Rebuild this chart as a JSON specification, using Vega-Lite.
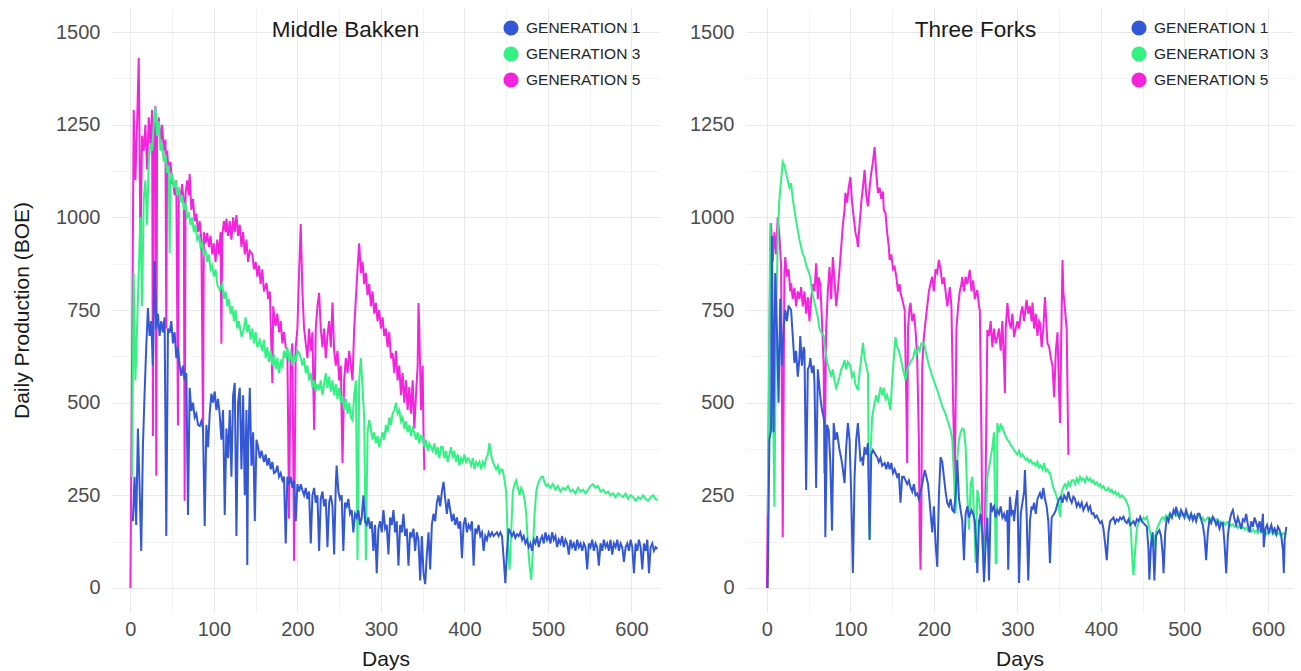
{
"$schema": "https://vega.github.io/schema/vega-lite/v6.json",
"background": "white",
"padding": {"left": 11, "top": 8, "right": 4, "bottom": 2},
"config": {
  "view": {"stroke": null},
  "font": "Liberation Sans",
  "axis": {"domain": false, "ticks": false, "labelFontSize": 20, "labelColor": "#4d4d4d", "titleFontSize": 21, "titleFontWeight": "normal", "titleColor": "#1a1a1a", "labelPadding": 12},
  "title": {"fontSize": 22.5, "fontWeight": "normal", "color": "#1a1a1a", "anchor": "middle"}
},
"datasets": {
"mb": [
{"gen":5,"day":0,"boe":0},{"gen":5,"day":2,"boe":600},{"gen":5,"day":4,"boe":1290},{"gen":5,"day":6,"boe":1100},{"gen":5,"day":8,"boe":1250},{"gen":5,"day":10,"boe":1430},{"gen":5,"day":11,"boe":1200},{"gen":5,"day":12,"boe":900},{"gen":5,"day":14,"boe":1220},{"gen":5,"day":16,"boe":1180},{"gen":5,"day":18,"boe":1250},{"gen":5,"day":20,"boe":1130},{"gen":5,"day":22,"boe":1270},{"gen":5,"day":24,"boe":1200},{"gen":5,"day":26,"boe":1290},{"gen":5,"day":27,"boe":410},{"gen":5,"day":28,"boe":1240},{"gen":5,"day":30,"boe":1300},{"gen":5,"day":31,"boe":303},{"gen":5,"day":32,"boe":1230},{"gen":5,"day":34,"boe":1270},{"gen":5,"day":36,"boe":1200},{"gen":5,"day":38,"boe":1250},{"gen":5,"day":40,"boe":1180},{"gen":5,"day":42,"boe":1210},{"gen":5,"day":43,"boe":700},{"gen":5,"day":44,"boe":1180},{"gen":5,"day":46,"boe":1120},{"gen":5,"day":48,"boe":1150},{"gen":5,"day":50,"boe":1090},{"gen":5,"day":51,"boe":1103},{"gen":5,"day":53,"boe":1060},{"gen":5,"day":55,"boe":1100},{"gen":5,"day":57,"boe":438},{"gen":5,"day":58,"boe":1080},{"gen":5,"day":60,"boe":1050},{"gen":5,"day":62,"boe":1090},{"gen":5,"day":64,"boe":1040},{"gen":5,"day":65,"boe":235},{"gen":5,"day":66,"boe":1060},{"gen":5,"day":68,"boe":1100},{"gen":5,"day":70,"boe":1060},{"gen":5,"day":71,"boe":1117},{"gen":5,"day":73,"boe":1020},{"gen":5,"day":75,"boe":1050},{"gen":5,"day":77,"boe":990},{"gen":5,"day":79,"boe":1010},{"gen":5,"day":81,"boe":960},{"gen":5,"day":83,"boe":990},{"gen":5,"day":85,"boe":940},{"gen":5,"day":87,"boe":418},{"gen":5,"day":88,"boe":960},{"gen":5,"day":90,"boe":930},{"gen":5,"day":92,"boe":958},{"gen":5,"day":94,"boe":920},{"gen":5,"day":96,"boe":950},{"gen":5,"day":98,"boe":900},{"gen":5,"day":100,"boe":930},{"gen":5,"day":102,"boe":880},{"gen":5,"day":104,"boe":940},{"gen":5,"day":106,"boe":900},{"gen":5,"day":108,"boe":960},{"gen":5,"day":109,"boe":659},{"gen":5,"day":110,"boe":950},{"gen":5,"day":112,"boe":990},{"gen":5,"day":114,"boe":960},{"gen":5,"day":115,"boe":997},{"gen":5,"day":117,"boe":950},{"gen":5,"day":119,"boe":990},{"gen":5,"day":121,"boe":940},{"gen":5,"day":123,"boe":1000},{"gen":5,"day":125,"boe":960},{"gen":5,"day":127,"boe":1006},{"gen":5,"day":129,"boe":950},{"gen":5,"day":131,"boe":980},{"gen":5,"day":133,"boe":920},{"gen":5,"day":135,"boe":960},{"gen":5,"day":137,"boe":900},{"gen":5,"day":139,"boe":940},{"gen":5,"day":141,"boe":880},{"gen":5,"day":143,"boe":910},{"gen":5,"day":146,"boe":901},{"gen":5,"day":148,"boe":860},{"gen":5,"day":150,"boe":880},{"gen":5,"day":152,"boe":840},{"gen":5,"day":154,"boe":870},{"gen":5,"day":156,"boe":820},{"gen":5,"day":158,"boe":860},{"gen":5,"day":160,"boe":800},{"gen":5,"day":163,"boe":823},{"gen":5,"day":165,"boe":780},{"gen":5,"day":167,"boe":800},{"gen":5,"day":170,"boe":553},{"gen":5,"day":171,"boe":760},{"gen":5,"day":173,"boe":720},{"gen":5,"day":174,"boe":707},{"gen":5,"day":176,"boe":740},{"gen":5,"day":178,"boe":690},{"gen":5,"day":180,"boe":720},{"gen":5,"day":182,"boe":660},{"gen":5,"day":184,"boe":690},{"gen":5,"day":186,"boe":650},{"gen":5,"day":188,"boe":640},{"gen":5,"day":190,"boe":187},{"gen":5,"day":192,"boe":620},{"gen":5,"day":194,"boe":660},{"gen":5,"day":196,"boe":73},{"gen":5,"day":198,"boe":650},{"gen":5,"day":200,"boe":700},{"gen":5,"day":202,"boe":850},{"gen":5,"day":204,"boe":982},{"gen":5,"day":206,"boe":800},{"gen":5,"day":208,"boe":700},{"gen":5,"day":210,"boe":660},{"gen":5,"day":212,"boe":620},{"gen":5,"day":214,"boe":700},{"gen":5,"day":216,"boe":640},{"gen":5,"day":218,"boe":690},{"gen":5,"day":220,"boe":426},{"gen":5,"day":222,"boe":700},{"gen":5,"day":224,"boe":760},{"gen":5,"day":226,"boe":796},{"gen":5,"day":228,"boe":700},{"gen":5,"day":230,"boe":650},{"gen":5,"day":232,"boe":700},{"gen":5,"day":234,"boe":620},{"gen":5,"day":236,"boe":680},{"gen":5,"day":238,"boe":720},{"gen":5,"day":240,"boe":650},{"gen":5,"day":242,"boe":770},{"gen":5,"day":244,"boe":640},{"gen":5,"day":246,"boe":600},{"gen":5,"day":248,"boe":640},{"gen":5,"day":250,"boe":560},{"gen":5,"day":252,"boe":600},{"gen":5,"day":254,"boe":337},{"gen":5,"day":256,"boe":560},{"gen":5,"day":258,"boe":620},{"gen":5,"day":260,"boe":580},{"gen":5,"day":262,"boe":640},{"gen":5,"day":264,"boe":600},{"gen":5,"day":266,"boe":560},{"gen":5,"day":268,"boe":700},{"gen":5,"day":270,"boe":780},{"gen":5,"day":272,"boe":860},{"gen":5,"day":274,"boe":930},{"gen":5,"day":276,"boe":850},{"gen":5,"day":278,"boe":880},{"gen":5,"day":280,"boe":820},{"gen":5,"day":282,"boe":850},{"gen":5,"day":284,"boe":790},{"gen":5,"day":286,"boe":820},{"gen":5,"day":288,"boe":760},{"gen":5,"day":290,"boe":800},{"gen":5,"day":292,"boe":740},{"gen":5,"day":294,"boe":769},{"gen":5,"day":296,"boe":720},{"gen":5,"day":298,"boe":750},{"gen":5,"day":300,"boe":700},{"gen":5,"day":302,"boe":730},{"gen":5,"day":304,"boe":680},{"gen":5,"day":306,"boe":700},{"gen":5,"day":308,"boe":650},{"gen":5,"day":310,"boe":690},{"gen":5,"day":312,"boe":620},{"gen":5,"day":314,"boe":634},{"gen":5,"day":316,"boe":580},{"gen":5,"day":318,"boe":640},{"gen":5,"day":320,"boe":560},{"gen":5,"day":322,"boe":600},{"gen":5,"day":324,"boe":520},{"gen":5,"day":326,"boe":580},{"gen":5,"day":328,"boe":500},{"gen":5,"day":330,"boe":560},{"gen":5,"day":332,"boe":480},{"gen":5,"day":334,"boe":542},{"gen":5,"day":336,"boe":470},{"gen":5,"day":338,"boe":560},{"gen":5,"day":340,"boe":430},{"gen":5,"day":342,"boe":520},{"gen":5,"day":344,"boe":600},{"gen":5,"day":345,"boe":769},{"gen":5,"day":346,"boe":700},{"gen":5,"day":348,"boe":480},{"gen":5,"day":350,"boe":600},{"gen":5,"day":351,"boe":420},{"gen":5,"day":352,"boe":318},
{"gen":3,"day":2,"boe":300},{"gen":3,"day":4,"boe":850},{"gen":3,"day":6,"boe":560},{"gen":3,"day":8,"boe":700},{"gen":3,"day":10,"boe":850},{"gen":3,"day":12,"boe":1000},{"gen":3,"day":14,"boe":760},{"gen":3,"day":16,"boe":1050},{"gen":3,"day":18,"boe":1100},{"gen":3,"day":20,"boe":980},{"gen":3,"day":22,"boe":1150},{"gen":3,"day":24,"boe":1200},{"gen":3,"day":26,"boe":1180},{"gen":3,"day":28,"boe":1250},{"gen":3,"day":30,"boe":1298},{"gen":3,"day":32,"boe":1220},{"gen":3,"day":34,"boe":1260},{"gen":3,"day":36,"boe":1180},{"gen":3,"day":38,"boe":1200},{"gen":3,"day":40,"boe":1150},{"gen":3,"day":42,"boe":1170},{"gen":3,"day":44,"boe":1120},{"gen":3,"day":46,"boe":1140},{"gen":3,"day":47,"boe":903},{"gen":3,"day":48,"boe":1100},{"gen":3,"day":50,"boe":1120},{"gen":3,"day":52,"boe":1080},{"gen":3,"day":54,"boe":1100},{"gen":3,"day":56,"boe":1060},{"gen":3,"day":58,"boe":1080},{"gen":3,"day":60,"boe":1040},{"gen":3,"day":62,"boe":1060},{"gen":3,"day":64,"boe":1020},{"gen":3,"day":66,"boe":1040},{"gen":3,"day":68,"boe":1000},{"gen":3,"day":70,"boe":1010},{"gen":3,"day":72,"boe":980},{"gen":3,"day":74,"boe":1000},{"gen":3,"day":76,"boe":960},{"gen":3,"day":78,"boe":980},{"gen":3,"day":80,"boe":940},{"gen":3,"day":82,"boe":950},{"gen":3,"day":84,"boe":920},{"gen":3,"day":86,"boe":930},{"gen":3,"day":88,"boe":900},{"gen":3,"day":90,"boe":910},{"gen":3,"day":92,"boe":880},{"gen":3,"day":94,"boe":900},{"gen":3,"day":96,"boe":860},{"gen":3,"day":98,"boe":870},{"gen":3,"day":100,"boe":840},{"gen":3,"day":102,"boe":860},{"gen":3,"day":104,"boe":820},{"gen":3,"day":107,"boe":804},{"gen":3,"day":110,"boe":820},{"gen":3,"day":112,"boe":780},{"gen":3,"day":114,"boe":800},{"gen":3,"day":116,"boe":760},{"gen":3,"day":118,"boe":780},{"gen":3,"day":120,"boe":740},{"gen":3,"day":122,"boe":760},{"gen":3,"day":124,"boe":720},{"gen":3,"day":126,"boe":750},{"gen":3,"day":128,"boe":700},{"gen":3,"day":130,"boe":720},{"gen":3,"day":133,"boe":678},{"gen":3,"day":136,"boe":700},{"gen":3,"day":138,"boe":730},{"gen":3,"day":140,"boe":690},{"gen":3,"day":142,"boe":710},{"gen":3,"day":144,"boe":670},{"gen":3,"day":146,"boe":700},{"gen":3,"day":148,"boe":660},{"gen":3,"day":150,"boe":690},{"gen":3,"day":152,"boe":650},{"gen":3,"day":155,"boe":669},{"gen":3,"day":158,"boe":640},{"gen":3,"day":160,"boe":670},{"gen":3,"day":162,"boe":620},{"gen":3,"day":164,"boe":650},{"gen":3,"day":166,"boe":610},{"gen":3,"day":168,"boe":640},{"gen":3,"day":170,"boe":600},{"gen":3,"day":172,"boe":630},{"gen":3,"day":174,"boe":590},{"gen":3,"day":176,"boe":620},{"gen":3,"day":178,"boe":580},{"gen":3,"day":180,"boe":610},{"gen":3,"day":182,"boe":600},{"gen":3,"day":184,"boe":640},{"gen":3,"day":186,"boe":620},{"gen":3,"day":188,"boe":650},{"gen":3,"day":190,"boe":610},{"gen":3,"day":192,"boe":640},{"gen":3,"day":194,"boe":600},{"gen":3,"day":196,"boe":630},{"gen":3,"day":198,"boe":610},{"gen":3,"day":200,"boe":640},{"gen":3,"day":203,"boe":631},{"gen":3,"day":206,"boe":600},{"gen":3,"day":208,"boe":620},{"gen":3,"day":210,"boe":580},{"gen":3,"day":212,"boe":600},{"gen":3,"day":214,"boe":560},{"gen":3,"day":216,"boe":580},{"gen":3,"day":218,"boe":540},{"gen":3,"day":220,"boe":560},{"gen":3,"day":222,"boe":530},{"gen":3,"day":224,"boe":550},{"gen":3,"day":226,"boe":534},{"gen":3,"day":228,"boe":560},{"gen":3,"day":230,"boe":520},{"gen":3,"day":232,"boe":550},{"gen":3,"day":234,"boe":580},{"gen":3,"day":236,"boe":540},{"gen":3,"day":238,"boe":570},{"gen":3,"day":240,"boe":530},{"gen":3,"day":242,"boe":560},{"gen":3,"day":244,"boe":520},{"gen":3,"day":246,"boe":550},{"gen":3,"day":248,"boe":510},{"gen":3,"day":250,"boe":540},{"gen":3,"day":252,"boe":500},{"gen":3,"day":254,"boe":520},{"gen":3,"day":256,"boe":480},{"gen":3,"day":258,"boe":510},{"gen":3,"day":260,"boe":470},{"gen":3,"day":262,"boe":500},{"gen":3,"day":264,"boe":460},{"gen":3,"day":266,"boe":453},{"gen":3,"day":268,"boe":520},{"gen":3,"day":270,"boe":560},{"gen":3,"day":272,"boe":75},{"gen":3,"day":274,"boe":560},{"gen":3,"day":276,"boe":620},{"gen":3,"day":278,"boe":540},{"gen":3,"day":280,"boe":460},{"gen":3,"day":282,"boe":75},{"gen":3,"day":284,"boe":420},{"gen":3,"day":286,"boe":453},{"gen":3,"day":288,"boe":430},{"gen":3,"day":290,"boe":400},{"gen":3,"day":292,"boe":420},{"gen":3,"day":294,"boe":390},{"gen":3,"day":296,"boe":410},{"gen":3,"day":298,"boe":380},{"gen":3,"day":300,"boe":400},{"gen":3,"day":302,"boe":420},{"gen":3,"day":304,"boe":400},{"gen":3,"day":306,"boe":440},{"gen":3,"day":308,"boe":420},{"gen":3,"day":310,"boe":460},{"gen":3,"day":312,"boe":440},{"gen":3,"day":314,"boe":470},{"gen":3,"day":316,"boe":480},{"gen":3,"day":318,"boe":500},{"gen":3,"day":320,"boe":470},{"gen":3,"day":322,"boe":480},{"gen":3,"day":324,"boe":450},{"gen":3,"day":326,"boe":460},{"gen":3,"day":328,"boe":430},{"gen":3,"day":330,"boe":450},{"gen":3,"day":332,"boe":420},{"gen":3,"day":334,"boe":440},{"gen":3,"day":336,"boe":410},{"gen":3,"day":338,"boe":430},{"gen":3,"day":340,"boe":420},{"gen":3,"day":342,"boe":400},{"gen":3,"day":344,"boe":420},{"gen":3,"day":346,"boe":390},{"gen":3,"day":348,"boe":410},{"gen":3,"day":350,"boe":407},{"gen":3,"day":352,"boe":380},{"gen":3,"day":354,"boe":400},{"gen":3,"day":356,"boe":370},{"gen":3,"day":358,"boe":390},{"gen":3,"day":360,"boe":380},{"gen":3,"day":362,"boe":370},{"gen":3,"day":364,"boe":390},{"gen":3,"day":366,"boe":360},{"gen":3,"day":368,"boe":380},{"gen":3,"day":370,"boe":350},{"gen":3,"day":372,"boe":380},{"gen":3,"day":374,"boe":380},{"gen":3,"day":376,"boe":350},{"gen":3,"day":378,"boe":370},{"gen":3,"day":380,"boe":340},{"gen":3,"day":382,"boe":360},{"gen":3,"day":384,"boe":380},{"gen":3,"day":386,"boe":350},{"gen":3,"day":388,"boe":370},{"gen":3,"day":390,"boe":340},{"gen":3,"day":392,"boe":360},{"gen":3,"day":394,"boe":330},{"gen":3,"day":396,"boe":350},{"gen":3,"day":398,"boe":340},{"gen":3,"day":400,"boe":360},{"gen":3,"day":402,"boe":340},{"gen":3,"day":404,"boe":350},{"gen":3,"day":406,"boe":345},{"gen":3,"day":408,"boe":330},{"gen":3,"day":410,"boe":350},{"gen":3,"day":412,"boe":320},{"gen":3,"day":414,"boe":340},{"gen":3,"day":416,"boe":330},{"gen":3,"day":418,"boe":340},{"gen":3,"day":420,"boe":320},{"gen":3,"day":422,"boe":340},{"gen":3,"day":424,"boe":330},{"gen":3,"day":426,"boe":350},{"gen":3,"day":428,"boe":360},{"gen":3,"day":430,"boe":391},{"gen":3,"day":432,"boe":360},{"gen":3,"day":434,"boe":340},{"gen":3,"day":436,"boe":330},{"gen":3,"day":438,"boe":320},{"gen":3,"day":440,"boe":330},{"gen":3,"day":442,"boe":310},{"gen":3,"day":444,"boe":320},{"gen":3,"day":446,"boe":318},{"gen":3,"day":448,"boe":290},{"gen":3,"day":450,"boe":260},{"gen":3,"day":452,"boe":120},{"gen":3,"day":454,"boe":49},{"gen":3,"day":456,"boe":150},{"gen":3,"day":458,"boe":260},{"gen":3,"day":460,"boe":280},{"gen":3,"day":462,"boe":290},{"gen":3,"day":464,"boe":270},{"gen":3,"day":466,"boe":250},{"gen":3,"day":468,"boe":270},{"gen":3,"day":470,"boe":260},{"gen":3,"day":472,"boe":240},{"gen":3,"day":474,"boe":200},{"gen":3,"day":476,"boe":120},{"gen":3,"day":478,"boe":60},{"gen":3,"day":480,"boe":22},{"gen":3,"day":482,"boe":100},{"gen":3,"day":484,"boe":200},{"gen":3,"day":486,"boe":260},{"gen":3,"day":488,"boe":280},{"gen":3,"day":490,"boe":290},{"gen":3,"day":492,"boe":300},{"gen":3,"day":494,"boe":300},{"gen":3,"day":496,"boe":285},{"gen":3,"day":498,"boe":275},{"gen":3,"day":500,"boe":280},{"gen":3,"day":503,"boe":270},{"gen":3,"day":506,"boe":280},{"gen":3,"day":509,"boe":265},{"gen":3,"day":512,"boe":275},{"gen":3,"day":515,"boe":260},{"gen":3,"day":518,"boe":270},{"gen":3,"day":521,"boe":265},{"gen":3,"day":524,"boe":275},{"gen":3,"day":527,"boe":260},{"gen":3,"day":530,"boe":265},{"gen":3,"day":533,"boe":255},{"gen":3,"day":536,"boe":270},{"gen":3,"day":539,"boe":260},{"gen":3,"day":542,"boe":265},{"gen":3,"day":545,"boe":255},{"gen":3,"day":548,"boe":265},{"gen":3,"day":551,"boe":275},{"gen":3,"day":554,"boe":280},{"gen":3,"day":557,"boe":270},{"gen":3,"day":560,"boe":275},{"gen":3,"day":563,"boe":260},{"gen":3,"day":566,"boe":265},{"gen":3,"day":569,"boe":255},{"gen":3,"day":572,"boe":260},{"gen":3,"day":575,"boe":250},{"gen":3,"day":578,"boe":255},{"gen":3,"day":581,"boe":245},{"gen":3,"day":584,"boe":255},{"gen":3,"day":587,"boe":250},{"gen":3,"day":590,"boe":245},{"gen":3,"day":593,"boe":255},{"gen":3,"day":596,"boe":240},{"gen":3,"day":599,"boe":250},{"gen":3,"day":602,"boe":245},{"gen":3,"day":605,"boe":235},{"gen":3,"day":608,"boe":245},{"gen":3,"day":611,"boe":240},{"gen":3,"day":614,"boe":250},{"gen":3,"day":617,"boe":240},{"gen":3,"day":620,"boe":235},{"gen":3,"day":623,"boe":245},{"gen":3,"day":626,"boe":250},{"gen":3,"day":629,"boe":240},{"gen":3,"day":631,"boe":237},
{"gen":1,"day":3,"boe":180},{"gen":1,"day":5,"boe":300},{"gen":1,"day":7,"boe":170},{"gen":1,"day":9,"boe":430},{"gen":1,"day":11,"boe":275},{"gen":1,"day":13,"boe":100},{"gen":1,"day":15,"boe":380},{"gen":1,"day":17,"boe":524},{"gen":1,"day":19,"boe":650},{"gen":1,"day":21,"boe":755},{"gen":1,"day":23,"boe":680},{"gen":1,"day":25,"boe":720},{"gen":1,"day":27,"boe":600},{"gen":1,"day":29,"boe":882},{"gen":1,"day":31,"boe":700},{"gen":1,"day":33,"boe":740},{"gen":1,"day":35,"boe":680},{"gen":1,"day":37,"boe":720},{"gen":1,"day":39,"boe":690},{"gen":1,"day":41,"boe":730},{"gen":1,"day":43,"boe":140},{"gen":1,"day":45,"boe":700},{"gen":1,"day":47,"boe":688},{"gen":1,"day":49,"boe":720},{"gen":1,"day":51,"boe":660},{"gen":1,"day":53,"boe":690},{"gen":1,"day":55,"boe":620},{"gen":1,"day":57,"boe":650},{"gen":1,"day":59,"boe":600},{"gen":1,"day":61,"boe":572},{"gen":1,"day":63,"boe":600},{"gen":1,"day":65,"boe":560},{"gen":1,"day":67,"boe":580},{"gen":1,"day":69,"boe":197},{"gen":1,"day":71,"boe":540},{"gen":1,"day":73,"boe":478},{"gen":1,"day":75,"boe":500},{"gen":1,"day":77,"boe":460},{"gen":1,"day":79,"boe":470},{"gen":1,"day":81,"boe":440},{"gen":1,"day":83,"boe":437},{"gen":1,"day":85,"boe":450},{"gen":1,"day":87,"boe":430},{"gen":1,"day":89,"boe":167},{"gen":1,"day":91,"boe":440},{"gen":1,"day":93,"boe":380},{"gen":1,"day":95,"boe":470},{"gen":1,"day":97,"boe":524},{"gen":1,"day":99,"boe":500},{"gen":1,"day":101,"boe":530},{"gen":1,"day":103,"boe":480},{"gen":1,"day":105,"boe":510},{"gen":1,"day":107,"boe":467},{"gen":1,"day":109,"boe":400},{"gen":1,"day":111,"boe":480},{"gen":1,"day":113,"boe":197},{"gen":1,"day":115,"boe":430},{"gen":1,"day":117,"boe":350},{"gen":1,"day":119,"boe":480},{"gen":1,"day":121,"boe":300},{"gen":1,"day":123,"boe":520},{"gen":1,"day":125,"boe":553},{"gen":1,"day":127,"boe":140},{"gen":1,"day":129,"boe":500},{"gen":1,"day":131,"boe":540},{"gen":1,"day":133,"boe":320},{"gen":1,"day":135,"boe":520},{"gen":1,"day":137,"boe":250},{"gen":1,"day":139,"boe":480},{"gen":1,"day":140,"boe":62},{"gen":1,"day":141,"boe":380},{"gen":1,"day":143,"boe":540},{"gen":1,"day":145,"boe":330},{"gen":1,"day":147,"boe":420},{"gen":1,"day":149,"boe":180},{"gen":1,"day":151,"boe":400},{"gen":1,"day":153,"boe":380},{"gen":1,"day":155,"boe":350},{"gen":1,"day":157,"boe":370},{"gen":1,"day":160,"boe":340},{"gen":1,"day":162,"boe":360},{"gen":1,"day":164,"boe":330},{"gen":1,"day":166,"boe":350},{"gen":1,"day":168,"boe":320},{"gen":1,"day":170,"boe":340},{"gen":1,"day":172,"boe":310},{"gen":1,"day":174,"boe":313},{"gen":1,"day":176,"boe":330},{"gen":1,"day":178,"boe":300},{"gen":1,"day":180,"boe":310},{"gen":1,"day":182,"boe":290},{"gen":1,"day":184,"boe":300},{"gen":1,"day":186,"boe":120},{"gen":1,"day":188,"boe":300},{"gen":1,"day":190,"boe":280},{"gen":1,"day":192,"boe":300},{"gen":1,"day":194,"boe":270},{"gen":1,"day":196,"boe":290},{"gen":1,"day":198,"boe":180},{"gen":1,"day":200,"boe":280},{"gen":1,"day":202,"boe":260},{"gen":1,"day":204,"boe":280},{"gen":1,"day":206,"boe":264},{"gen":1,"day":208,"boe":250},{"gen":1,"day":210,"boe":270},{"gen":1,"day":212,"boe":240},{"gen":1,"day":214,"boe":260},{"gen":1,"day":216,"boe":120},{"gen":1,"day":218,"boe":250},{"gen":1,"day":220,"boe":270},{"gen":1,"day":222,"boe":230},{"gen":1,"day":224,"boe":250},{"gen":1,"day":226,"boe":100},{"gen":1,"day":228,"boe":240},{"gen":1,"day":230,"boe":260},{"gen":1,"day":232,"boe":220},{"gen":1,"day":234,"boe":240},{"gen":1,"day":236,"boe":110},{"gen":1,"day":238,"boe":230},{"gen":1,"day":240,"boe":250},{"gen":1,"day":242,"boe":220},{"gen":1,"day":244,"boe":90},{"gen":1,"day":246,"boe":280},{"gen":1,"day":247,"boe":330},{"gen":1,"day":249,"boe":260},{"gen":1,"day":251,"boe":240},{"gen":1,"day":253,"boe":250},{"gen":1,"day":255,"boe":100},{"gen":1,"day":257,"boe":230},{"gen":1,"day":259,"boe":220},{"gen":1,"day":261,"boe":240},{"gen":1,"day":263,"boe":200},{"gen":1,"day":265,"boe":210},{"gen":1,"day":267,"boe":150},{"gen":1,"day":269,"boe":200},{"gen":1,"day":271,"boe":190},{"gen":1,"day":273,"boe":210},{"gen":1,"day":275,"boe":170},{"gen":1,"day":277,"boe":190},{"gen":1,"day":279,"boe":250},{"gen":1,"day":281,"boe":180},{"gen":1,"day":283,"boe":170},{"gen":1,"day":285,"boe":190},{"gen":1,"day":287,"boe":160},{"gen":1,"day":289,"boe":180},{"gen":1,"day":291,"boe":100},{"gen":1,"day":293,"boe":170},{"gen":1,"day":295,"boe":40},{"gen":1,"day":297,"boe":160},{"gen":1,"day":299,"boe":180},{"gen":1,"day":301,"boe":150},{"gen":1,"day":303,"boe":210},{"gen":1,"day":305,"boe":160},{"gen":1,"day":307,"boe":170},{"gen":1,"day":309,"boe":90},{"gen":1,"day":311,"boe":190},{"gen":1,"day":313,"boe":170},{"gen":1,"day":315,"boe":210},{"gen":1,"day":317,"boe":150},{"gen":1,"day":319,"boe":180},{"gen":1,"day":321,"boe":60},{"gen":1,"day":323,"boe":170},{"gen":1,"day":325,"boe":150},{"gen":1,"day":327,"boe":200},{"gen":1,"day":329,"boe":140},{"gen":1,"day":331,"boe":160},{"gen":1,"day":333,"boe":60},{"gen":1,"day":335,"boe":150},{"gen":1,"day":337,"boe":140},{"gen":1,"day":339,"boe":160},{"gen":1,"day":341,"boe":100},{"gen":1,"day":343,"boe":150},{"gen":1,"day":345,"boe":130},{"gen":1,"day":347,"boe":20},{"gen":1,"day":349,"boe":140},{"gen":1,"day":351,"boe":40},{"gen":1,"day":353,"boe":10},{"gen":1,"day":355,"boe":90},{"gen":1,"day":357,"boe":150},{"gen":1,"day":359,"boe":50},{"gen":1,"day":361,"boe":170},{"gen":1,"day":363,"boe":200},{"gen":1,"day":365,"boe":180},{"gen":1,"day":367,"boe":230},{"gen":1,"day":369,"boe":250},{"gen":1,"day":371,"boe":220},{"gen":1,"day":373,"boe":260},{"gen":1,"day":375,"boe":286},{"gen":1,"day":377,"boe":240},{"gen":1,"day":379,"boe":200},{"gen":1,"day":381,"boe":240},{"gen":1,"day":383,"boe":210},{"gen":1,"day":385,"boe":180},{"gen":1,"day":387,"boe":200},{"gen":1,"day":389,"boe":170},{"gen":1,"day":391,"boe":190},{"gen":1,"day":393,"boe":160},{"gen":1,"day":395,"boe":180},{"gen":1,"day":397,"boe":80},{"gen":1,"day":399,"boe":170},{"gen":1,"day":401,"boe":190},{"gen":1,"day":403,"boe":150},{"gen":1,"day":405,"boe":170},{"gen":1,"day":407,"boe":160},{"gen":1,"day":409,"boe":180},{"gen":1,"day":411,"boe":60},{"gen":1,"day":413,"boe":160},{"gen":1,"day":415,"boe":150},{"gen":1,"day":417,"boe":170},{"gen":1,"day":419,"boe":140},{"gen":1,"day":421,"boe":150},{"gen":1,"day":423,"boe":100},{"gen":1,"day":425,"boe":140},{"gen":1,"day":427,"boe":130},{"gen":1,"day":429,"boe":150},{"gen":1,"day":431,"boe":140},{"gen":1,"day":433,"boe":150},{"gen":1,"day":435,"boe":140},{"gen":1,"day":437,"boe":145},{"gen":1,"day":439,"boe":150},{"gen":1,"day":441,"boe":140},{"gen":1,"day":443,"boe":150},{"gen":1,"day":445,"boe":140},{"gen":1,"day":447,"boe":80},{"gen":1,"day":449,"boe":13},{"gen":1,"day":451,"boe":100},{"gen":1,"day":453,"boe":160},{"gen":1,"day":455,"boe":150},{"gen":1,"day":457,"boe":140},{"gen":1,"day":459,"boe":150},{"gen":1,"day":461,"boe":135},{"gen":1,"day":463,"boe":145},{"gen":1,"day":465,"boe":140},{"gen":1,"day":467,"boe":150},{"gen":1,"day":469,"boe":130},{"gen":1,"day":471,"boe":140},{"gen":1,"day":473,"boe":120},{"gen":1,"day":475,"boe":130},{"gen":1,"day":477,"boe":110},{"gen":1,"day":479,"boe":120},{"gen":1,"day":481,"boe":100},{"gen":1,"day":483,"boe":130},{"gen":1,"day":485,"boe":120},{"gen":1,"day":487,"boe":140},{"gen":1,"day":489,"boe":110},{"gen":1,"day":491,"boe":130},{"gen":1,"day":493,"boe":140},{"gen":1,"day":495,"boe":120},{"gen":1,"day":497,"boe":150},{"gen":1,"day":499,"boe":130},{"gen":1,"day":501,"boe":140},{"gen":1,"day":503,"boe":120},{"gen":1,"day":505,"boe":150},{"gen":1,"day":507,"boe":130},{"gen":1,"day":509,"boe":140},{"gen":1,"day":511,"boe":110},{"gen":1,"day":513,"boe":130},{"gen":1,"day":515,"boe":120},{"gen":1,"day":517,"boe":140},{"gen":1,"day":519,"boe":110},{"gen":1,"day":521,"boe":130},{"gen":1,"day":523,"boe":120},{"gen":1,"day":525,"boe":90},{"gen":1,"day":527,"boe":130},{"gen":1,"day":529,"boe":110},{"gen":1,"day":531,"boe":120},{"gen":1,"day":533,"boe":100},{"gen":1,"day":535,"boe":130},{"gen":1,"day":537,"boe":110},{"gen":1,"day":539,"boe":120},{"gen":1,"day":541,"boe":100},{"gen":1,"day":543,"boe":120},{"gen":1,"day":545,"boe":110},{"gen":1,"day":547,"boe":50},{"gen":1,"day":549,"boe":120},{"gen":1,"day":551,"boe":110},{"gen":1,"day":553,"boe":130},{"gen":1,"day":555,"boe":100},{"gen":1,"day":557,"boe":120},{"gen":1,"day":559,"boe":110},{"gen":1,"day":561,"boe":60},{"gen":1,"day":563,"boe":120},{"gen":1,"day":565,"boe":100},{"gen":1,"day":567,"boe":130},{"gen":1,"day":569,"boe":110},{"gen":1,"day":571,"boe":120},{"gen":1,"day":573,"boe":100},{"gen":1,"day":575,"boe":130},{"gen":1,"day":577,"boe":90},{"gen":1,"day":579,"boe":120},{"gen":1,"day":581,"boe":110},{"gen":1,"day":583,"boe":130},{"gen":1,"day":585,"boe":100},{"gen":1,"day":587,"boe":120},{"gen":1,"day":589,"boe":110},{"gen":1,"day":591,"boe":70},{"gen":1,"day":593,"boe":110},{"gen":1,"day":595,"boe":120},{"gen":1,"day":597,"boe":100},{"gen":1,"day":599,"boe":130},{"gen":1,"day":601,"boe":110},{"gen":1,"day":603,"boe":40},{"gen":1,"day":605,"boe":120},{"gen":1,"day":607,"boe":100},{"gen":1,"day":609,"boe":130},{"gen":1,"day":611,"boe":110},{"gen":1,"day":613,"boe":50},{"gen":1,"day":615,"boe":120},{"gen":1,"day":617,"boe":100},{"gen":1,"day":619,"boe":130},{"gen":1,"day":621,"boe":40},{"gen":1,"day":623,"boe":110},{"gen":1,"day":625,"boe":120},{"gen":1,"day":627,"boe":100},{"gen":1,"day":629,"boe":110},{"gen":1,"day":631,"boe":105}
],
"tf": [
{"gen":5,"day":0,"boe":0},{"gen":5,"day":2,"boe":400},{"gen":5,"day":4,"boe":900},{"gen":5,"day":5,"boe":985},{"gen":5,"day":7,"boe":880},{"gen":5,"day":9,"boe":960},{"gen":5,"day":11,"boe":900},{"gen":5,"day":13,"boe":1000},{"gen":5,"day":15,"boe":950},{"gen":5,"day":17,"boe":870},{"gen":5,"day":19,"boe":137},{"gen":5,"day":21,"boe":850},{"gen":5,"day":22,"boe":893},{"gen":5,"day":24,"boe":840},{"gen":5,"day":26,"boe":860},{"gen":5,"day":28,"boe":800},{"gen":5,"day":29,"boe":822},{"gen":5,"day":31,"boe":780},{"gen":5,"day":33,"boe":810},{"gen":5,"day":35,"boe":760},{"gen":5,"day":37,"boe":800},{"gen":5,"day":39,"boe":780},{"gen":5,"day":41,"boe":812},{"gen":5,"day":43,"boe":760},{"gen":5,"day":45,"boe":800},{"gen":5,"day":47,"boe":740},{"gen":5,"day":49,"boe":785},{"gen":5,"day":51,"boe":720},{"gen":5,"day":53,"boe":780},{"gen":5,"day":55,"boe":820},{"gen":5,"day":57,"boe":800},{"gen":5,"day":59,"boe":876},{"gen":5,"day":61,"boe":780},{"gen":5,"day":62,"boe":838},{"gen":5,"day":64,"boe":820},{"gen":5,"day":66,"boe":720},{"gen":5,"day":68,"boe":600},{"gen":5,"day":69,"boe":309},{"gen":5,"day":71,"boe":700},{"gen":5,"day":73,"boe":800},{"gen":5,"day":75,"boe":866},{"gen":5,"day":77,"boe":780},{"gen":5,"day":79,"boe":893},{"gen":5,"day":81,"boe":830},{"gen":5,"day":83,"boe":760},{"gen":5,"day":85,"boe":804},{"gen":5,"day":87,"boe":860},{"gen":5,"day":89,"boe":920},{"gen":5,"day":91,"boe":980},{"gen":5,"day":93,"boe":1020},{"gen":5,"day":94,"boe":1066},{"gen":5,"day":96,"boe":1040},{"gen":5,"day":98,"boe":1080},{"gen":5,"day":100,"boe":1109},{"gen":5,"day":102,"boe":1040},{"gen":5,"day":104,"boe":1000},{"gen":5,"day":106,"boe":960},{"gen":5,"day":108,"boe":940},{"gen":5,"day":109,"boe":920},{"gen":5,"day":111,"boe":980},{"gen":5,"day":113,"boe":1040},{"gen":5,"day":115,"boe":1080},{"gen":5,"day":117,"boe":1128},{"gen":5,"day":119,"boe":1060},{"gen":5,"day":121,"boe":1030},{"gen":5,"day":123,"boe":1080},{"gen":5,"day":125,"boe":1120},{"gen":5,"day":127,"boe":1150},{"gen":5,"day":129,"boe":1190},{"gen":5,"day":131,"boe":1120},{"gen":5,"day":133,"boe":1066},{"gen":5,"day":135,"boe":1080},{"gen":5,"day":137,"boe":1050},{"gen":5,"day":139,"boe":1070},{"gen":5,"day":140,"boe":1020},{"gen":5,"day":142,"boe":1012},{"gen":5,"day":144,"boe":960},{"gen":5,"day":146,"boe":920},{"gen":5,"day":147,"boe":885},{"gen":5,"day":149,"boe":900},{"gen":5,"day":151,"boe":860},{"gen":5,"day":153,"boe":866},{"gen":5,"day":155,"boe":840},{"gen":5,"day":157,"boe":800},{"gen":5,"day":159,"boe":820},{"gen":5,"day":160,"boe":796},{"gen":5,"day":162,"boe":780},{"gen":5,"day":164,"boe":760},{"gen":5,"day":165,"boe":750},{"gen":5,"day":167,"boe":500},{"gen":5,"day":168,"boe":337},{"gen":5,"day":169,"boe":700},{"gen":5,"day":171,"boe":760},{"gen":5,"day":172,"boe":769},{"gen":5,"day":174,"boe":720},{"gen":5,"day":176,"boe":740},{"gen":5,"day":178,"boe":696},{"gen":5,"day":180,"boe":620},{"gen":5,"day":182,"boe":400},{"gen":5,"day":183,"boe":150},{"gen":5,"day":184,"boe":49},{"gen":5,"day":185,"boe":200},{"gen":5,"day":186,"boe":600},{"gen":5,"day":188,"boe":677},{"gen":5,"day":190,"boe":720},{"gen":5,"day":192,"boe":760},{"gen":5,"day":194,"boe":800},{"gen":5,"day":196,"boe":822},{"gen":5,"day":198,"boe":840},{"gen":5,"day":200,"boe":800},{"gen":5,"day":202,"boe":860},{"gen":5,"day":204,"boe":850},{"gen":5,"day":206,"boe":885},{"gen":5,"day":208,"boe":860},{"gen":5,"day":210,"boe":820},{"gen":5,"day":212,"boe":838},{"gen":5,"day":214,"boe":800},{"gen":5,"day":216,"boe":760},{"gen":5,"day":218,"boe":790},{"gen":5,"day":219,"boe":812},{"gen":5,"day":221,"boe":760},{"gen":5,"day":223,"boe":500},{"gen":5,"day":225,"boe":290},{"gen":5,"day":227,"boe":700},{"gen":5,"day":229,"boe":760},{"gen":5,"day":231,"boe":800},{"gen":5,"day":233,"boe":820},{"gen":5,"day":234,"boe":839},{"gen":5,"day":236,"boe":800},{"gen":5,"day":238,"boe":840},{"gen":5,"day":240,"boe":820},{"gen":5,"day":243,"boe":858},{"gen":5,"day":245,"boe":800},{"gen":5,"day":247,"boe":830},{"gen":5,"day":249,"boe":780},{"gen":5,"day":252,"boe":804},{"gen":5,"day":254,"boe":760},{"gen":5,"day":255,"boe":750},{"gen":5,"day":257,"boe":400},{"gen":5,"day":258,"boe":150},{"gen":5,"day":260,"boe":40},{"gen":5,"day":262,"boe":300},{"gen":5,"day":264,"boe":696},{"gen":5,"day":266,"boe":680},{"gen":5,"day":268,"boe":720},{"gen":5,"day":270,"boe":650},{"gen":5,"day":272,"boe":700},{"gen":5,"day":274,"boe":660},{"gen":5,"day":276,"boe":677},{"gen":5,"day":278,"boe":700},{"gen":5,"day":280,"boe":640},{"gen":5,"day":282,"boe":720},{"gen":5,"day":284,"boe":600},{"gen":5,"day":285,"boe":526},{"gen":5,"day":286,"boe":700},{"gen":5,"day":288,"boe":769},{"gen":5,"day":290,"boe":720},{"gen":5,"day":292,"boe":700},{"gen":5,"day":294,"boe":740},{"gen":5,"day":296,"boe":677},{"gen":5,"day":298,"boe":700},{"gen":5,"day":300,"boe":720},{"gen":5,"day":302,"boe":700},{"gen":5,"day":304,"boe":740},{"gen":5,"day":306,"boe":760},{"gen":5,"day":308,"boe":720},{"gen":5,"day":310,"boe":760},{"gen":5,"day":311,"boe":777},{"gen":5,"day":313,"boe":740},{"gen":5,"day":315,"boe":760},{"gen":5,"day":317,"boe":720},{"gen":5,"day":318,"boe":770},{"gen":5,"day":320,"boe":700},{"gen":5,"day":322,"boe":740},{"gen":5,"day":324,"boe":680},{"gen":5,"day":326,"boe":720},{"gen":5,"day":327,"boe":715},{"gen":5,"day":329,"boe":650},{"gen":5,"day":331,"boe":700},{"gen":5,"day":333,"boe":785},{"gen":5,"day":335,"boe":700},{"gen":5,"day":336,"boe":660},{"gen":5,"day":338,"boe":650},{"gen":5,"day":340,"boe":620},{"gen":5,"day":342,"boe":600},{"gen":5,"day":344,"boe":515},{"gen":5,"day":346,"boe":640},{"gen":5,"day":348,"boe":690},{"gen":5,"day":349,"boe":600},{"gen":5,"day":350,"boe":520},{"gen":5,"day":351,"boe":445},{"gen":5,"day":352,"boe":600},{"gen":5,"day":353,"boe":750},{"gen":5,"day":354,"boe":885},{"gen":5,"day":355,"boe":800},{"gen":5,"day":357,"boe":750},{"gen":5,"day":359,"boe":700},{"gen":5,"day":361,"boe":359},
{"gen":3,"day":1,"boe":200},{"gen":3,"day":3,"boe":700},{"gen":3,"day":4,"boe":985},{"gen":3,"day":6,"boe":600},{"gen":3,"day":8,"boe":400},{"gen":3,"day":9,"boe":219},{"gen":3,"day":11,"boe":700},{"gen":3,"day":13,"boe":950},{"gen":3,"day":15,"boe":1050},{"gen":3,"day":17,"boe":1100},{"gen":3,"day":19,"boe":1150},{"gen":3,"day":21,"boe":1140},{"gen":3,"day":23,"boe":1120},{"gen":3,"day":25,"boe":1100},{"gen":3,"day":27,"boe":1080},{"gen":3,"day":29,"boe":1092},{"gen":3,"day":31,"boe":1050},{"gen":3,"day":33,"boe":1020},{"gen":3,"day":35,"boe":990},{"gen":3,"day":37,"boe":966},{"gen":3,"day":39,"boe":940},{"gen":3,"day":41,"boe":920},{"gen":3,"day":43,"boe":900},{"gen":3,"day":45,"boe":893},{"gen":3,"day":47,"boe":870},{"gen":3,"day":49,"boe":860},{"gen":3,"day":52,"boe":839},{"gen":3,"day":54,"boe":800},{"gen":3,"day":56,"boe":780},{"gen":3,"day":58,"boe":760},{"gen":3,"day":61,"boe":731},{"gen":3,"day":63,"boe":700},{"gen":3,"day":65,"boe":690},{"gen":3,"day":68,"boe":680},{"gen":3,"day":70,"boe":640},{"gen":3,"day":72,"boe":610},{"gen":3,"day":75,"boe":588},{"gen":3,"day":77,"boe":570},{"gen":3,"day":79,"boe":590},{"gen":3,"day":81,"boe":560},{"gen":3,"day":83,"boe":540},{"gen":3,"day":85,"boe":553},{"gen":3,"day":87,"boe":570},{"gen":3,"day":89,"boe":590},{"gen":3,"day":91,"boe":600},{"gen":3,"day":93,"boe":615},{"gen":3,"day":95,"boe":590},{"gen":3,"day":97,"boe":610},{"gen":3,"day":100,"boe":600},{"gen":3,"day":102,"boe":570},{"gen":3,"day":104,"boe":580},{"gen":3,"day":106,"boe":550},{"gen":3,"day":109,"boe":534},{"gen":3,"day":111,"boe":580},{"gen":3,"day":113,"boe":620},{"gen":3,"day":115,"boe":661},{"gen":3,"day":117,"boe":620},{"gen":3,"day":119,"boe":600},{"gen":3,"day":121,"boe":580},{"gen":3,"day":122,"boe":300},{"gen":3,"day":123,"boe":130},{"gen":3,"day":124,"boe":350},{"gen":3,"day":126,"boe":460},{"gen":3,"day":129,"boe":499},{"gen":3,"day":131,"boe":520},{"gen":3,"day":133,"boe":500},{"gen":3,"day":136,"boe":542},{"gen":3,"day":138,"boe":520},{"gen":3,"day":140,"boe":540},{"gen":3,"day":142,"boe":510},{"gen":3,"day":144,"boe":520},{"gen":3,"day":146,"boe":500},{"gen":3,"day":148,"boe":480},{"gen":3,"day":150,"boe":560},{"gen":3,"day":152,"boe":620},{"gen":3,"day":154,"boe":677},{"gen":3,"day":156,"boe":650},{"gen":3,"day":158,"boe":640},{"gen":3,"day":160,"boe":623},{"gen":3,"day":162,"boe":600},{"gen":3,"day":164,"boe":580},{"gen":3,"day":166,"boe":560},{"gen":3,"day":168,"boe":590},{"gen":3,"day":170,"boe":600},{"gen":3,"day":172,"boe":610},{"gen":3,"day":175,"boe":620},{"gen":3,"day":177,"boe":640},{"gen":3,"day":179,"boe":630},{"gen":3,"day":181,"boe":650},{"gen":3,"day":183,"boe":640},{"gen":3,"day":185,"boe":660},{"gen":3,"day":188,"boe":661},{"gen":3,"day":190,"boe":640},{"gen":3,"day":192,"boe":620},{"gen":3,"day":194,"boe":600},{"gen":3,"day":196,"boe":588},{"gen":3,"day":198,"boe":570},{"gen":3,"day":200,"boe":560},{"gen":3,"day":202,"boe":545},{"gen":3,"day":204,"boe":534},{"gen":3,"day":206,"boe":520},{"gen":3,"day":208,"boe":505},{"gen":3,"day":210,"boe":490},{"gen":3,"day":212,"boe":480},{"gen":3,"day":214,"boe":470},{"gen":3,"day":216,"boe":453},{"gen":3,"day":218,"boe":440},{"gen":3,"day":220,"boe":426},{"gen":3,"day":222,"boe":400},{"gen":3,"day":224,"boe":300},{"gen":3,"day":226,"boe":202},{"gen":3,"day":228,"boe":350},{"gen":3,"day":230,"boe":399},{"gen":3,"day":232,"boe":420},{"gen":3,"day":234,"boe":430},{"gen":3,"day":236,"boe":426},{"gen":3,"day":238,"boe":380},{"gen":3,"day":240,"boe":250},{"gen":3,"day":242,"boe":157},{"gen":3,"day":244,"boe":280},{"gen":3,"day":246,"boe":300},{"gen":3,"day":248,"boe":200},{"gen":3,"day":250,"boe":67},{"gen":3,"day":252,"boe":264},{"gen":3,"day":254,"boe":240},{"gen":3,"day":256,"boe":200},{"gen":3,"day":258,"boe":120},{"gen":3,"day":260,"boe":48},{"gen":3,"day":262,"boe":150},{"gen":3,"day":264,"boe":300},{"gen":3,"day":267,"boe":337},{"gen":3,"day":270,"boe":380},{"gen":3,"day":272,"boe":420},{"gen":3,"day":274,"boe":67},{"gen":3,"day":275,"boe":67},{"gen":3,"day":276,"boe":445},{"gen":3,"day":278,"boe":420},{"gen":3,"day":280,"boe":440},{"gen":3,"day":282,"boe":434},{"gen":3,"day":284,"boe":420},{"gen":3,"day":286,"boe":410},{"gen":3,"day":288,"boe":400},{"gen":3,"day":290,"boe":395},{"gen":3,"day":292,"boe":385},{"gen":3,"day":294,"boe":380},{"gen":3,"day":296,"boe":372},{"gen":3,"day":298,"boe":365},{"gen":3,"day":300,"boe":360},{"gen":3,"day":302,"boe":370},{"gen":3,"day":304,"boe":355},{"gen":3,"day":306,"boe":360},{"gen":3,"day":308,"boe":353},{"gen":3,"day":310,"boe":345},{"gen":3,"day":312,"boe":350},{"gen":3,"day":314,"boe":340},{"gen":3,"day":316,"boe":345},{"gen":3,"day":318,"boe":335},{"gen":3,"day":320,"boe":337},{"gen":3,"day":322,"boe":330},{"gen":3,"day":324,"boe":340},{"gen":3,"day":326,"boe":325},{"gen":3,"day":328,"boe":330},{"gen":3,"day":330,"boe":320},{"gen":3,"day":332,"boe":337},{"gen":3,"day":334,"boe":315},{"gen":3,"day":336,"boe":320},{"gen":3,"day":338,"boe":310},{"gen":3,"day":339,"boe":310},{"gen":3,"day":341,"boe":290},{"gen":3,"day":343,"boe":270},{"gen":3,"day":345,"boe":260},{"gen":3,"day":347,"boe":246},{"gen":3,"day":349,"boe":230},{"gen":3,"day":351,"boe":192},{"gen":3,"day":353,"boe":260},{"gen":3,"day":355,"boe":272},{"gen":3,"day":357,"boe":280},{"gen":3,"day":359,"boe":270},{"gen":3,"day":361,"boe":285},{"gen":3,"day":363,"boe":275},{"gen":3,"day":365,"boe":290},{"gen":3,"day":367,"boe":291},{"gen":3,"day":369,"boe":280},{"gen":3,"day":371,"boe":295},{"gen":3,"day":373,"boe":285},{"gen":3,"day":375,"boe":300},{"gen":3,"day":377,"boe":290},{"gen":3,"day":379,"boe":295},{"gen":3,"day":381,"boe":285},{"gen":3,"day":383,"boe":299},{"gen":3,"day":385,"boe":290},{"gen":3,"day":387,"boe":295},{"gen":3,"day":389,"boe":285},{"gen":3,"day":391,"boe":290},{"gen":3,"day":393,"boe":280},{"gen":3,"day":395,"boe":285},{"gen":3,"day":397,"boe":275},{"gen":3,"day":399,"boe":280},{"gen":3,"day":401,"boe":270},{"gen":3,"day":403,"boe":275},{"gen":3,"day":405,"boe":265},{"gen":3,"day":407,"boe":264},{"gen":3,"day":409,"boe":270},{"gen":3,"day":411,"boe":260},{"gen":3,"day":413,"boe":265},{"gen":3,"day":415,"boe":255},{"gen":3,"day":417,"boe":260},{"gen":3,"day":419,"boe":250},{"gen":3,"day":421,"boe":255},{"gen":3,"day":423,"boe":245},{"gen":3,"day":425,"boe":250},{"gen":3,"day":427,"boe":246},{"gen":3,"day":429,"boe":240},{"gen":3,"day":431,"boe":230},{"gen":3,"day":433,"boe":220},{"gen":3,"day":434,"boe":210},{"gen":3,"day":436,"boe":150},{"gen":3,"day":438,"boe":60},{"gen":3,"day":439,"boe":35},{"gen":3,"day":441,"boe":100},{"gen":3,"day":443,"boe":160},{"gen":3,"day":445,"boe":175},{"gen":3,"day":447,"boe":185},{"gen":3,"day":449,"boe":180},{"gen":3,"day":451,"boe":190},{"gen":3,"day":453,"boe":185},{"gen":3,"day":455,"boe":192},{"gen":3,"day":457,"boe":170},{"gen":3,"day":459,"boe":150},{"gen":3,"day":461,"boe":130},{"gen":3,"day":463,"boe":110},{"gen":3,"day":465,"boe":140},{"gen":3,"day":467,"boe":160},{"gen":3,"day":470,"boe":175},{"gen":3,"day":472,"boe":185},{"gen":3,"day":474,"boe":190},{"gen":3,"day":476,"boe":185},{"gen":3,"day":478,"boe":195},{"gen":3,"day":480,"boe":190},{"gen":3,"day":482,"boe":200},{"gen":3,"day":484,"boe":195},{"gen":3,"day":487,"boe":202},{"gen":3,"day":489,"boe":200},{"gen":3,"day":491,"boe":195},{"gen":3,"day":493,"boe":205},{"gen":3,"day":495,"boe":200},{"gen":3,"day":497,"boe":195},{"gen":3,"day":499,"boe":200},{"gen":3,"day":502,"boe":197},{"gen":3,"day":504,"boe":190},{"gen":3,"day":506,"boe":195},{"gen":3,"day":508,"boe":200},{"gen":3,"day":510,"boe":192},{"gen":3,"day":512,"boe":195},{"gen":3,"day":514,"boe":188},{"gen":3,"day":516,"boe":195},{"gen":3,"day":518,"boe":192},{"gen":3,"day":520,"boe":185},{"gen":3,"day":522,"boe":190},{"gen":3,"day":524,"boe":180},{"gen":3,"day":526,"boe":185},{"gen":3,"day":528,"boe":190},{"gen":3,"day":530,"boe":182},{"gen":3,"day":532,"boe":188},{"gen":3,"day":535,"boe":183},{"gen":3,"day":537,"boe":178},{"gen":3,"day":539,"boe":185},{"gen":3,"day":541,"boe":175},{"gen":3,"day":543,"boe":180},{"gen":3,"day":545,"boe":172},{"gen":3,"day":547,"boe":178},{"gen":3,"day":549,"boe":170},{"gen":3,"day":551,"boe":178},{"gen":3,"day":554,"boe":175},{"gen":3,"day":556,"boe":168},{"gen":3,"day":558,"boe":172},{"gen":3,"day":560,"boe":165},{"gen":3,"day":562,"boe":170},{"gen":3,"day":564,"boe":162},{"gen":3,"day":566,"boe":168},{"gen":3,"day":568,"boe":160},{"gen":3,"day":570,"boe":165},{"gen":3,"day":572,"boe":158},{"gen":3,"day":574,"boe":162},{"gen":3,"day":576,"boe":155},{"gen":3,"day":578,"boe":160},{"gen":3,"day":580,"boe":152},{"gen":3,"day":582,"boe":158},{"gen":3,"day":584,"boe":150},{"gen":3,"day":586,"boe":155},{"gen":3,"day":588,"boe":148},{"gen":3,"day":590,"boe":155},{"gen":3,"day":592,"boe":150},{"gen":3,"day":594,"boe":156},{"gen":3,"day":596,"boe":150},{"gen":3,"day":598,"boe":145},{"gen":3,"day":600,"boe":152},{"gen":3,"day":602,"boe":148},{"gen":3,"day":604,"boe":155},{"gen":3,"day":606,"boe":145},{"gen":3,"day":608,"boe":150},{"gen":3,"day":610,"boe":142},{"gen":3,"day":612,"boe":148},{"gen":3,"day":614,"boe":145},{"gen":3,"day":616,"boe":140},{"gen":3,"day":618,"boe":148},{"gen":3,"day":620,"boe":145},{"gen":3,"day":622,"boe":148},
{"gen":1,"day":1,"boe":0},{"gen":1,"day":3,"boe":400},{"gen":1,"day":5,"boe":426},{"gen":1,"day":6,"boe":950},{"gen":1,"day":7,"boe":700},{"gen":1,"day":8,"boe":420},{"gen":1,"day":10,"boe":850},{"gen":1,"day":12,"boe":700},{"gen":1,"day":14,"boe":500},{"gen":1,"day":16,"boe":780},{"gen":1,"day":18,"boe":600},{"gen":1,"day":20,"boe":700},{"gen":1,"day":22,"boe":750},{"gen":1,"day":24,"boe":720},{"gen":1,"day":26,"boe":760},{"gen":1,"day":27,"boe":758},{"gen":1,"day":29,"boe":750},{"gen":1,"day":31,"boe":680},{"gen":1,"day":33,"boe":607},{"gen":1,"day":35,"boe":640},{"gen":1,"day":37,"boe":570},{"gen":1,"day":39,"boe":620},{"gen":1,"day":40,"boe":680},{"gen":1,"day":42,"boe":600},{"gen":1,"day":44,"boe":650},{"gen":1,"day":45,"boe":642},{"gen":1,"day":47,"boe":264},{"gen":1,"day":49,"boe":590},{"gen":1,"day":51,"boe":600},{"gen":1,"day":52,"boe":620},{"gen":1,"day":54,"boe":580},{"gen":1,"day":56,"boe":600},{"gen":1,"day":57,"boe":553},{"gen":1,"day":59,"boe":270},{"gen":1,"day":61,"boe":590},{"gen":1,"day":63,"boe":540},{"gen":1,"day":64,"boe":515},{"gen":1,"day":66,"boe":480},{"gen":1,"day":68,"boe":460},{"gen":1,"day":69,"boe":445},{"gen":1,"day":70,"boe":137},{"gen":1,"day":72,"boe":440},{"gen":1,"day":74,"boe":426},{"gen":1,"day":76,"boe":337},{"gen":1,"day":78,"boe":155},{"gen":1,"day":80,"boe":445},{"gen":1,"day":82,"boe":400},{"gen":1,"day":84,"boe":420},{"gen":1,"day":87,"boe":372},{"gen":1,"day":89,"boe":350},{"gen":1,"day":91,"boe":320},{"gen":1,"day":93,"boe":283},{"gen":1,"day":95,"boe":380},{"gen":1,"day":97,"boe":445},{"gen":1,"day":99,"boe":400},{"gen":1,"day":101,"boe":250},{"gen":1,"day":103,"boe":40},{"gen":1,"day":105,"boe":300},{"gen":1,"day":107,"boe":400},{"gen":1,"day":109,"boe":445},{"gen":1,"day":111,"boe":380},{"gen":1,"day":112,"boe":345},{"gen":1,"day":114,"boe":350},{"gen":1,"day":115,"boe":330},{"gen":1,"day":117,"boe":380},{"gen":1,"day":119,"boe":360},{"gen":1,"day":121,"boe":391},{"gen":1,"day":123,"boe":130},{"gen":1,"day":125,"boe":360},{"gen":1,"day":127,"boe":372},{"gen":1,"day":130,"boe":360},{"gen":1,"day":132,"boe":353},{"gen":1,"day":134,"boe":340},{"gen":1,"day":136,"boe":350},{"gen":1,"day":138,"boe":330},{"gen":1,"day":141,"boe":337},{"gen":1,"day":143,"boe":320},{"gen":1,"day":145,"boe":340},{"gen":1,"day":147,"boe":320},{"gen":1,"day":149,"boe":337},{"gen":1,"day":151,"boe":310},{"gen":1,"day":153,"boe":320},{"gen":1,"day":156,"boe":300},{"gen":1,"day":158,"boe":310},{"gen":1,"day":160,"boe":230},{"gen":1,"day":162,"boe":300},{"gen":1,"day":164,"boe":300},{"gen":1,"day":166,"boe":290},{"gen":1,"day":168,"boe":280},{"gen":1,"day":170,"boe":290},{"gen":1,"day":172,"boe":272},{"gen":1,"day":174,"boe":260},{"gen":1,"day":176,"boe":280},{"gen":1,"day":178,"boe":250},{"gen":1,"day":180,"boe":255},{"gen":1,"day":182,"boe":240},{"gen":1,"day":184,"boe":260},{"gen":1,"day":186,"boe":280},{"gen":1,"day":189,"boe":318},{"gen":1,"day":191,"boe":300},{"gen":1,"day":193,"boe":280},{"gen":1,"day":195,"boe":230},{"gen":1,"day":196,"boe":202},{"gen":1,"day":198,"boe":150},{"gen":1,"day":200,"boe":220},{"gen":1,"day":202,"boe":120},{"gen":1,"day":204,"boe":57},{"gen":1,"day":206,"boe":250},{"gen":1,"day":208,"boe":353},{"gen":1,"day":210,"boe":340},{"gen":1,"day":212,"boe":300},{"gen":1,"day":214,"boe":260},{"gen":1,"day":216,"boe":229},{"gen":1,"day":218,"boe":220},{"gen":1,"day":220,"boe":240},{"gen":1,"day":222,"boe":210},{"gen":1,"day":224,"boe":205},{"gen":1,"day":226,"boe":250},{"gen":1,"day":228,"boe":345},{"gen":1,"day":230,"boe":240},{"gen":1,"day":232,"boe":210},{"gen":1,"day":234,"boe":180},{"gen":1,"day":236,"boe":75},{"gen":1,"day":238,"boe":200},{"gen":1,"day":240,"boe":220},{"gen":1,"day":242,"boe":190},{"gen":1,"day":245,"boe":210},{"gen":1,"day":247,"boe":200},{"gen":1,"day":249,"boe":180},{"gen":1,"day":251,"boe":100},{"gen":1,"day":252,"boe":40},{"gen":1,"day":254,"boe":180},{"gen":1,"day":256,"boe":200},{"gen":1,"day":258,"boe":150},{"gen":1,"day":260,"boe":16},{"gen":1,"day":262,"boe":120},{"gen":1,"day":264,"boe":190},{"gen":1,"day":266,"boe":20},{"gen":1,"day":268,"boe":230},{"gen":1,"day":270,"boe":210},{"gen":1,"day":272,"boe":220},{"gen":1,"day":274,"boe":190},{"gen":1,"day":276,"boe":210},{"gen":1,"day":278,"boe":200},{"gen":1,"day":280,"boe":220},{"gen":1,"day":282,"boe":190},{"gen":1,"day":284,"boe":200},{"gen":1,"day":286,"boe":180},{"gen":1,"day":288,"boe":210},{"gen":1,"day":289,"boe":49},{"gen":1,"day":291,"boe":246},{"gen":1,"day":293,"boe":200},{"gen":1,"day":295,"boe":210},{"gen":1,"day":296,"boe":180},{"gen":1,"day":298,"boe":230},{"gen":1,"day":300,"boe":264},{"gen":1,"day":302,"boe":13},{"gen":1,"day":304,"boe":200},{"gen":1,"day":306,"boe":230},{"gen":1,"day":308,"boe":260},{"gen":1,"day":309,"boe":318},{"gen":1,"day":311,"boe":200},{"gen":1,"day":313,"boe":20},{"gen":1,"day":315,"boe":180},{"gen":1,"day":317,"boe":220},{"gen":1,"day":318,"boe":210},{"gen":1,"day":320,"boe":230},{"gen":1,"day":322,"boe":200},{"gen":1,"day":324,"boe":240},{"gen":1,"day":327,"boe":256},{"gen":1,"day":329,"boe":240},{"gen":1,"day":331,"boe":270},{"gen":1,"day":333,"boe":240},{"gen":1,"day":335,"boe":220},{"gen":1,"day":337,"boe":180},{"gen":1,"day":339,"boe":67},{"gen":1,"day":341,"boe":190},{"gen":1,"day":344,"boe":200},{"gen":1,"day":346,"boe":210},{"gen":1,"day":348,"boe":228},{"gen":1,"day":350,"boe":240},{"gen":1,"day":352,"boe":246},{"gen":1,"day":354,"boe":230},{"gen":1,"day":356,"boe":250},{"gen":1,"day":359,"boe":237},{"gen":1,"day":361,"boe":260},{"gen":1,"day":363,"boe":240},{"gen":1,"day":365,"boe":230},{"gen":1,"day":367,"boe":246},{"gen":1,"day":369,"boe":240},{"gen":1,"day":371,"boe":220},{"gen":1,"day":373,"boe":230},{"gen":1,"day":375,"boe":219},{"gen":1,"day":377,"boe":230},{"gen":1,"day":379,"boe":210},{"gen":1,"day":381,"boe":220},{"gen":1,"day":383,"boe":228},{"gen":1,"day":385,"boe":210},{"gen":1,"day":387,"boe":220},{"gen":1,"day":389,"boe":200},{"gen":1,"day":391,"boe":202},{"gen":1,"day":393,"boe":190},{"gen":1,"day":395,"boe":195},{"gen":1,"day":397,"boe":185},{"gen":1,"day":399,"boe":175},{"gen":1,"day":401,"boe":180},{"gen":1,"day":403,"boe":160},{"gen":1,"day":405,"boe":120},{"gen":1,"day":407,"boe":75},{"gen":1,"day":409,"boe":150},{"gen":1,"day":411,"boe":180},{"gen":1,"day":413,"boe":185},{"gen":1,"day":415,"boe":190},{"gen":1,"day":417,"boe":175},{"gen":1,"day":419,"boe":185},{"gen":1,"day":421,"boe":180},{"gen":1,"day":423,"boe":190},{"gen":1,"day":425,"boe":185},{"gen":1,"day":427,"boe":192},{"gen":1,"day":429,"boe":180},{"gen":1,"day":431,"boe":175},{"gen":1,"day":433,"boe":185},{"gen":1,"day":435,"boe":170},{"gen":1,"day":437,"boe":175},{"gen":1,"day":439,"boe":180},{"gen":1,"day":441,"boe":170},{"gen":1,"day":443,"boe":185},{"gen":1,"day":445,"boe":180},{"gen":1,"day":447,"boe":192},{"gen":1,"day":449,"boe":180},{"gen":1,"day":451,"boe":175},{"gen":1,"day":453,"boe":170},{"gen":1,"day":455,"boe":165},{"gen":1,"day":457,"boe":100},{"gen":1,"day":458,"boe":22},{"gen":1,"day":460,"boe":120},{"gen":1,"day":462,"boe":150},{"gen":1,"day":464,"boe":20},{"gen":1,"day":466,"boe":140},{"gen":1,"day":468,"boe":150},{"gen":1,"day":470,"boe":156},{"gen":1,"day":472,"boe":140},{"gen":1,"day":474,"boe":90},{"gen":1,"day":475,"boe":40},{"gen":1,"day":477,"boe":150},{"gen":1,"day":479,"boe":192},{"gen":1,"day":481,"boe":180},{"gen":1,"day":483,"boe":200},{"gen":1,"day":485,"boe":190},{"gen":1,"day":487,"boe":210},{"gen":1,"day":489,"boe":200},{"gen":1,"day":490,"boe":219},{"gen":1,"day":492,"boe":200},{"gen":1,"day":494,"boe":190},{"gen":1,"day":496,"boe":210},{"gen":1,"day":498,"boe":200},{"gen":1,"day":500,"boe":190},{"gen":1,"day":502,"boe":210},{"gen":1,"day":504,"boe":195},{"gen":1,"day":506,"boe":185},{"gen":1,"day":508,"boe":200},{"gen":1,"day":510,"boe":183},{"gen":1,"day":512,"boe":195},{"gen":1,"day":514,"boe":180},{"gen":1,"day":516,"boe":200},{"gen":1,"day":518,"boe":200},{"gen":1,"day":520,"boe":185},{"gen":1,"day":522,"boe":170},{"gen":1,"day":524,"boe":140},{"gen":1,"day":526,"boe":75},{"gen":1,"day":528,"boe":150},{"gen":1,"day":530,"boe":185},{"gen":1,"day":532,"boe":175},{"gen":1,"day":534,"boe":192},{"gen":1,"day":536,"boe":185},{"gen":1,"day":538,"boe":170},{"gen":1,"day":540,"boe":180},{"gen":1,"day":542,"boe":160},{"gen":1,"day":544,"boe":175},{"gen":1,"day":546,"boe":175},{"gen":1,"day":548,"boe":120},{"gen":1,"day":550,"boe":40},{"gen":1,"day":552,"boe":140},{"gen":1,"day":554,"boe":180},{"gen":1,"day":556,"boe":200},{"gen":1,"day":558,"boe":210},{"gen":1,"day":560,"boe":185},{"gen":1,"day":562,"boe":170},{"gen":1,"day":564,"boe":190},{"gen":1,"day":566,"boe":175},{"gen":1,"day":568,"boe":160},{"gen":1,"day":570,"boe":185},{"gen":1,"day":572,"boe":180},{"gen":1,"day":574,"boe":200},{"gen":1,"day":576,"boe":170},{"gen":1,"day":578,"boe":150},{"gen":1,"day":580,"boe":180},{"gen":1,"day":582,"boe":165},{"gen":1,"day":584,"boe":190},{"gen":1,"day":586,"boe":175},{"gen":1,"day":588,"boe":160},{"gen":1,"day":590,"boe":180},{"gen":1,"day":592,"boe":150},{"gen":1,"day":594,"boe":200},{"gen":1,"day":595,"boe":110},{"gen":1,"day":597,"boe":160},{"gen":1,"day":599,"boe":170},{"gen":1,"day":601,"boe":150},{"gen":1,"day":602,"boe":156},{"gen":1,"day":604,"boe":170},{"gen":1,"day":606,"boe":150},{"gen":1,"day":608,"boe":160},{"gen":1,"day":610,"boe":145},{"gen":1,"day":612,"boe":165},{"gen":1,"day":614,"boe":156},{"gen":1,"day":616,"boe":140},{"gen":1,"day":618,"boe":100},{"gen":1,"day":619,"boe":40},{"gen":1,"day":620,"boe":130},{"gen":1,"day":622,"boe":165}
]
},
"spacing": 27,
"hconcat": [
{
  "data": {"name": "mb"},
  "width": 547, "height": 604,
  "title": {"text": "Middle Bakken", "offset": -33, "dx": -40},
  "mark": {"type": "line", "strokeWidth": 2, "interpolate": "linear"},
  "encoding": {
    "x": {"field": "day", "type": "quantitative", "title": "Days", "scale": {"domain": [-22, 633], "nice": false, "zero": false},
      "axis": {"values": [0,50,100,150,200,250,300,350,400,450,500,550,600], "labelExpr": "datum.value % 100 == 0 ? datum.label : ''", "format": "d", "labelPadding": 7, "titlePadding": 9,
        "gridColor": {"condition": {"test": "datum.value % 100 == 0", "value": "#e9e9e9"}, "value": "#f3f3f3"}}},
    "y": {"field": "boe", "type": "quantitative", "title": "Daily Production (BOE)", "scale": {"domain": [-65, 1565], "nice": false, "zero": false},
      "axis": {"values": [0,125,250,375,500,625,750,875,1000,1125,1250,1375,1500], "labelExpr": "datum.value % 250 == 0 ? datum.label : ''", "format": "d", "titlePadding": 23,
        "gridColor": {"condition": {"test": "datum.value % 250 == 0", "value": "#e9e9e9"}, "value": "#f3f3f3"}}},
    "color": {"field": "gen", "type": "nominal", "scale": {"domain": [1, 3, 5], "range": ["#3457d5", "#33f283", "#f424dc"]},
      "legend": {"orient": "none", "legendX": 391, "legendY": 12, "title": null, "symbolType": "circle", "symbolSize": 230, "symbolStrokeWidth": 0, "labelFontSize": 15.5, "labelColor": "#262626", "rowPadding": 9, "labelOffset": 7, "labelExpr": "'GENERATION ' + datum.label",
        "encode": {"symbols": {"update": {"fill": {"signal": "datum.value == 1 ? '#3457d5' : datum.value == 3 ? '#33f283' : '#f424dc'"}, "fillOpacity": {"value": 1}, "strokeWidth": {"value": 0}}}}}},
    "order": {"field": "day", "type": "quantitative"}
  }
},
{
  "data": {"name": "tf"},
  "width": 547, "height": 604,
  "title": {"text": "Three Forks", "offset": -33, "dx": -44},
  "mark": {"type": "line", "strokeWidth": 2, "interpolate": "linear"},
  "encoding": {
    "x": {"field": "day", "type": "quantitative", "title": "Days", "scale": {"domain": [-25, 630], "nice": false, "zero": false},
      "axis": {"values": [0,50,100,150,200,250,300,350,400,450,500,550,600], "labelExpr": "datum.value % 100 == 0 ? datum.label : ''", "format": "d", "labelPadding": 7, "titlePadding": 9,
        "gridColor": {"condition": {"test": "datum.value % 100 == 0", "value": "#e9e9e9"}, "value": "#f3f3f3"}}},
    "y": {"field": "boe", "type": "quantitative", "title": null, "scale": {"domain": [-65, 1565], "nice": false, "zero": false},
      "axis": {"values": [0,125,250,375,500,625,750,875,1000,1125,1250,1375,1500], "labelExpr": "datum.value % 250 == 0 ? datum.label : ''", "format": "d",
        "gridColor": {"condition": {"test": "datum.value % 250 == 0", "value": "#e9e9e9"}, "value": "#f3f3f3"}}},
    "color": {"field": "gen", "type": "nominal", "scale": {"domain": [1, 3, 5], "range": ["#3457d5", "#33f283", "#f424dc"]},
      "legend": {"orient": "none", "legendX": 385, "legendY": 12, "title": null, "symbolType": "circle", "symbolSize": 230, "symbolStrokeWidth": 0, "labelFontSize": 15.5, "labelColor": "#262626", "rowPadding": 9, "labelOffset": 7, "labelExpr": "'GENERATION ' + datum.label",
        "encode": {"symbols": {"update": {"fill": {"signal": "datum.value == 1 ? '#3457d5' : datum.value == 3 ? '#33f283' : '#f424dc'"}, "fillOpacity": {"value": 1}, "strokeWidth": {"value": 0}}}}}},
    "order": {"field": "day", "type": "quantitative"}
  }
}
],
"resolve": {"scale": {"color": "independent", "x": "independent", "y": "independent"}, "legend": {"color": "independent"}}
}
